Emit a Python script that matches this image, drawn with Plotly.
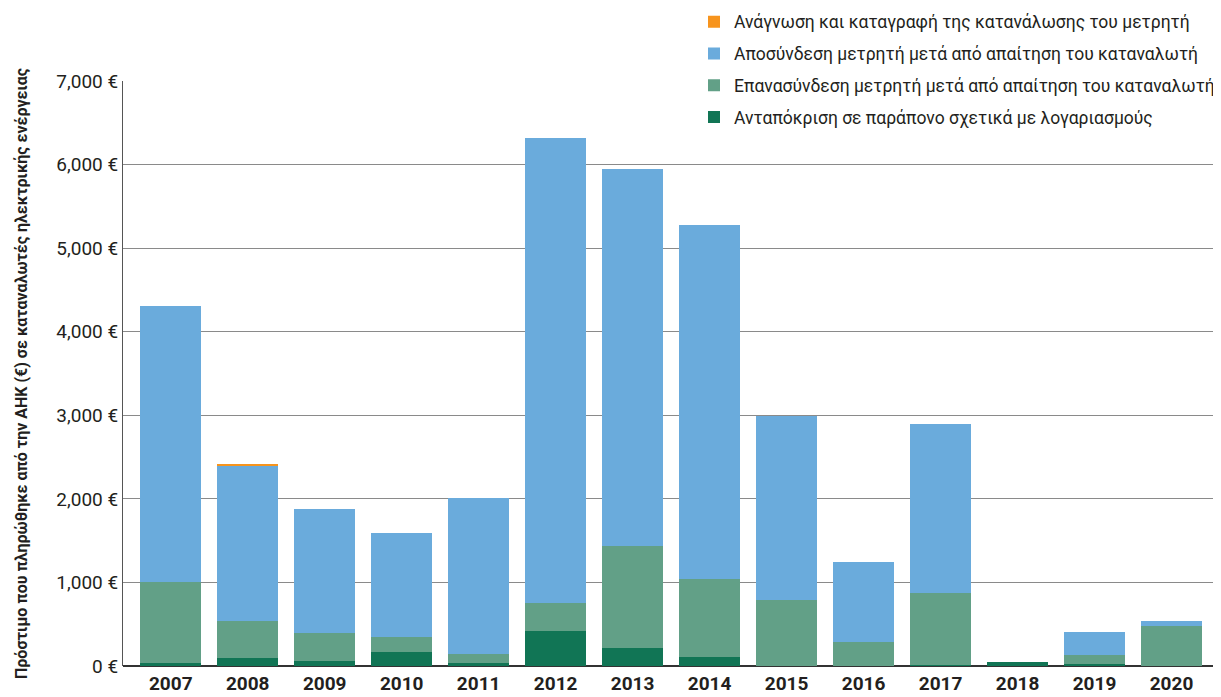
import plotly.graph_objects as go

years = ["2007", "2008", "2009", "2010", "2011", "2012", "2013", "2014",
         "2015", "2016", "2017", "2018", "2019", "2020"]
complaints = [40, 100, 60, 170, 40, 420, 215, 110, 0, 0, 15, 50, 25, 0]
reconnection = [965, 440, 335, 175, 105, 335, 1220, 930, 790, 290, 860, 0, 105, 480]
disconnection = [3305, 1855, 1485, 1245, 1865, 5565, 4510, 4235, 2200, 955, 2020, 0, 275, 60]
reading = [0, 25, 0, 0, 0, 0, 0, 0, 0, 0, 0, 0, 0, 0]

y_ticks = [0, 1000, 2000, 3000, 4000, 5000, 6000, 7000]
y_tick_text = [f"{v:,} €" for v in y_ticks]

names = [
    "Ανταπόκριση σε παράπονο σχετικά με λογαριασμούς",
    "Επανασύνδεση μετρητή μετά από απαίτηση του καταναλωτή",
    "Αποσύνδεση μετρητή μετά από απαίτηση του καταναλωτή",
    "Ανάγνωση και καταγραφή της κατανάλωσης του μετρητή",
]
colors = ["#117555", "#62A087", "#6AABDC", "#F7941D"]
series = [complaints, reconnection, disconnection, reading]

fig = go.Figure()
for i, (n, c, s) in enumerate(zip(names, colors, series)):
    fig.add_trace(go.Bar(x=years, y=s, name=n, marker_color=c, marker_line_width=0,
                         legendgroup=f"g{i}", legendrank=100 - i))

# the page body has an 8px default margin, so the figure is 8px smaller
fig.update_layout(
    barmode="stack",
    bargap=0.21,
    width=1213, height=689,
    margin=dict(l=115, r=1, t=73, b=31, autoexpand=False),
    plot_bgcolor="white", paper_bgcolor="white",
    font=dict(family="Roboto, DejaVu Sans, sans-serif", color="#231F20"),
    legend=dict(
        traceorder="grouped",
        x=1, xanchor="right", y=1.132, yanchor="top",
        bgcolor="white",
        font=dict(size=17.5, color="#231F20"),
        itemsizing="constant",
        tracegroupgap=6,
    ),
    xaxis=dict(
        range=[-0.62, 13.63],
        showline=False, ticks="",
        ticklabelstandoff=4,
        tickfont=dict(size=19, family="Liberation Sans Narrow, Roboto, sans-serif", weight="bold"),
    ),
    yaxis=dict(
        range=[0, 7000],
        tickvals=y_ticks, ticktext=y_tick_text,
        showgrid=True, gridcolor="#8a8a8a", gridwidth=1,
        showline=True, linecolor="#555555", linewidth=1,
        zeroline=True, zerolinecolor="#333333", zerolinewidth=1.5,
        tickfont=dict(size=19),
        title=dict(
            text="Πρόστιμο που πληρώθηκε από την ΑΗΚ (€) σε καταναλωτές ηλεκτρικής ενέργειας",
            font=dict(size=16, family="Liberation Sans Narrow, Roboto, sans-serif", weight="bold"),
            standoff=24,
        ),
    ),
)

fig.write_html("out.html")
